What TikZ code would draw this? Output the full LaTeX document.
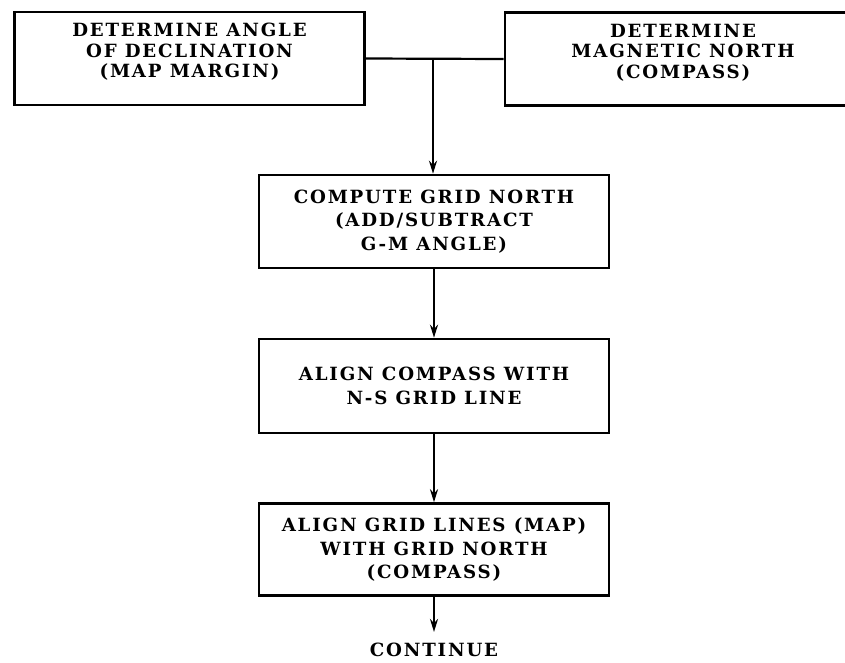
\documentclass[tikz,border=0pt]{standalone}
\usepackage{fontspec}
\setmainfont{DejaVu Serif}[LetterSpace=10]
\usetikzlibrary{arrows.meta}
\begin{document}
\begin{tikzpicture}[x=1pt,y=-1pt,
  txt/.style={font=\fontsize{18.2}{23.5}\selectfont\bfseries, align=center},
  box/.style={txt, draw, line width=2.6pt, minimum width=350pt, minimum height=93pt, inner sep=0pt},
  topbox/.style={box, font=\fontsize{18.2}{20.5}\selectfont\bfseries, text depth=16pt},
  conn/.style={line width=2.2pt},
  arr/.style={conn, -{Stealth[length=13pt,width=8pt]}}]
\clip (0,0) rectangle (845,662);
\useasboundingbox (0,0) rectangle (845,662);
\node[topbox] (b1) at (189.5,58.5) {DETERMINE ANGLE\\OF DECLINATION\\(MAP MARGIN)};
\node[topbox, minimum width=356pt] (b2) at (683,59) {DETERMINE\\MAGNETIC NORTH\\(COMPASS)};
\node[box] (b3) at (434,221.5) {COMPUTE GRID NORTH\\(ADD/SUBTRACT\\G-M ANGLE)};
\node[box, minimum height=94pt] (b4) at (434,386) {ALIGN COMPASS WITH\\N-S GRID LINE};
\node[box, minimum height=92pt] (b5) at (434,549.5) {ALIGN GRID LINES (MAP)\\WITH GRID NORTH\\(COMPASS)};
\node[txt, inner xsep=0pt, inner ysep=11pt] (cont) at (434,650) {CONTINUE};
\draw[conn] (b1.east) -- (b2.west);
\coordinate (j) at (433,59);
\draw[arr] (j) -- (j |- b3.north);
\draw[arr] (b3) -- (b4);
\draw[arr] (b4) -- (b5);
\draw[arr] (b5.south) -- (cont.north);
\end{tikzpicture}
\end{document}
